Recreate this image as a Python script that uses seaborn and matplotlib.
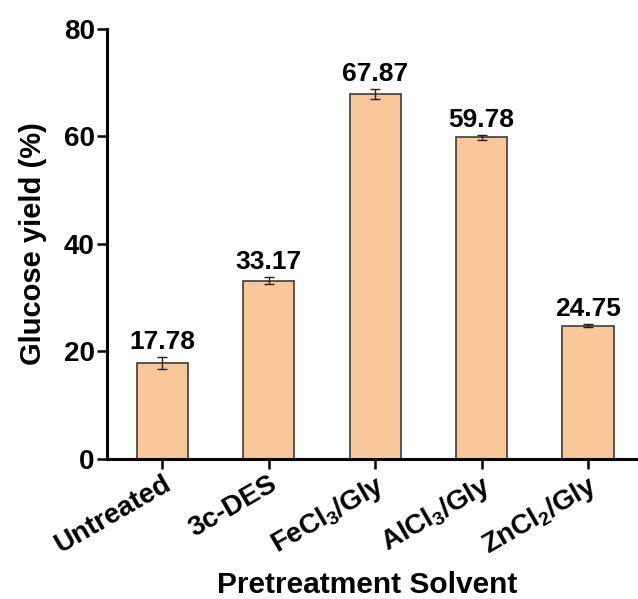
import matplotlib
matplotlib.use('Agg')
import matplotlib.pyplot as plt
import numpy as np
import pandas as pd
import seaborn as sns

solvents = ['Untreated', '3c-DES', 'FeCl$_3$/Gly', 'AlCl$_3$/Gly', 'ZnCl$_2$/Gly']
yields = [17.78, 33.17, 67.87, 59.78, 24.75]
errors = [1.1, 0.7, 0.9, 0.5, 0.25]
value_labels = ['17.78', '33.17', '67.87', '59.78', '24.75']

sns.set_style('ticks')
plt.rcParams['font.family'] = ['Liberation Sans', 'DejaVu Sans']
plt.rcParams['font.weight'] = 'bold'
plt.rcParams['text.color'] = 'black'
plt.rcParams['axes.labelcolor'] = 'black'
plt.rcParams['xtick.color'] = 'black'
plt.rcParams['ytick.color'] = 'black'
plt.rcParams['mathtext.fontset'] = 'custom'
plt.rcParams['mathtext.rm'] = 'Liberation Sans:bold'
plt.rcParams['mathtext.default'] = 'rm'

df = pd.DataFrame({'solvent': solvents, 'yield': yields, 'err': errors})

fig = plt.figure(figsize=(6.38, 5.99), dpi=100)
ax = fig.add_axes([0.168, 0.234, 0.832, 0.718])

sns.barplot(data=df, x='solvent', y='yield', ax=ax, color='#FAC898',
            saturation=1, width=0.48, edgecolor='#3c3c3c', linewidth=1.2,
            errorbar=None)
xs = np.arange(len(solvents))
ax.errorbar(xs, df['yield'], yerr=df['err'], fmt='none', ecolor='#222222',
            elinewidth=1.0, capsize=3.5, capthick=1.0)

for x, y, e, lab in zip(xs, yields, errors, value_labels):
    ax.text(x, y + e + 0.6, lab, ha='center', va='bottom', fontsize=19,
            fontweight='bold', color='black')

ax.set_ylim(0, 80)
ax.set_xlim(-0.52, 4.47)
ax.set_yticks([0, 20, 40, 60, 80])
ax.set_ylabel('Glucose yield (%)', fontsize=21, fontweight='bold', labelpad=12)
ax.set_xlabel('Pretreatment Solvent', fontsize=21.5, fontweight='bold')
ax.xaxis.set_label_coords(0.49, -0.26)
ax.tick_params(axis='both', direction='out', length=7, width=1.8, labelsize=20,
               pad=2)
plt.setp(ax.get_xticklabels(), rotation=30, ha='right', rotation_mode='anchor',
         fontweight='bold')
plt.setp(ax.get_yticklabels(), fontweight='bold')
for side in ['top', 'right']:
    ax.spines[side].set_visible(False)
for side in ['left', 'bottom']:
    ax.spines[side].set_linewidth(2.2)
    ax.spines[side].set_color('black')

fig.savefig('out.png', dpi=100)
